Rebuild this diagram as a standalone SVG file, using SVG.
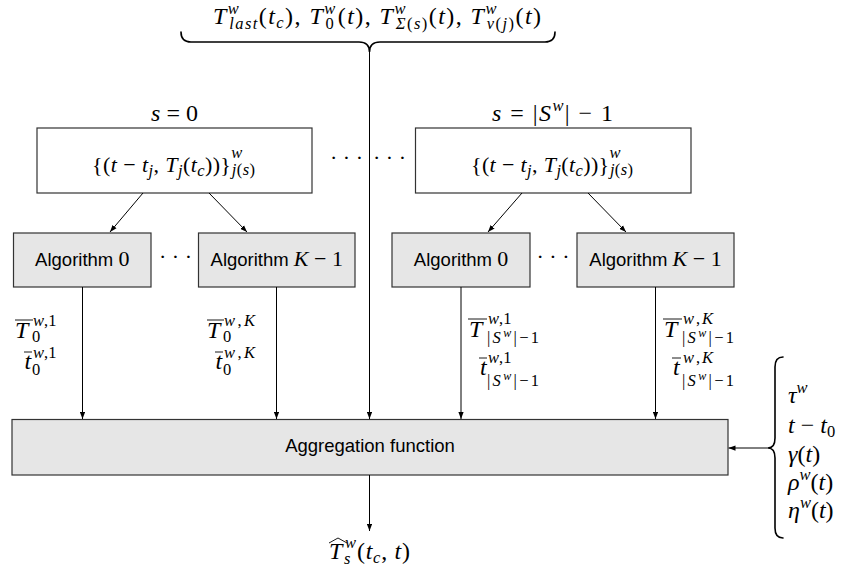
<svg xmlns="http://www.w3.org/2000/svg" width="844" height="574" viewBox="0 0 844 574">
<style>
.m{font-family:"Liberation Serif","Times New Roman",serif;font-size:24px;fill:#000}
.i{font-style:italic}
.s{font-size:16.5px}
.ss{font-size:12px}
.sans{font-family:"Liberation Sans",Arial,sans-serif;font-size:18.5px;fill:#000}
.box{fill:#fff;stroke:#333;stroke-width:1.2}
.gbox{fill:#e6e6e6;stroke:#333;stroke-width:1.2}
.ln{stroke:#000;stroke-width:1;fill:none}
.brace{stroke:#000;stroke-width:1.6;fill:none;stroke-linecap:round}
.bar{stroke:#000;stroke-width:0.9;fill:none}
</style>
<defs>
<marker id="ah" viewBox="0 0 8 6" refX="8" refY="3" markerWidth="7" markerHeight="5.5" markerUnits="userSpaceOnUse" orient="auto">
<path d="M0,0 L8,3 L0,6 z" fill="#000"/>
</marker>
</defs>
<rect width="844" height="574" fill="#fff"/>

<g id="inputs-top">
<text class="m" x="213" y="24" textLength="328" lengthAdjust="spacing"><tspan class="i">T</tspan><tspan class="i s" dy="-10">w</tspan><tspan class="i s" dx="-11" dy="15">last</tspan><tspan dy="-5">(</tspan><tspan class="i">t</tspan><tspan class="i s" dy="4">c</tspan><tspan dy="-4">), </tspan><tspan class="i">T</tspan><tspan class="i s" dy="-10">w</tspan><tspan class="s" dx="-11" dy="15">0</tspan><tspan dx="2.5" dy="-5">(</tspan><tspan class="i">t</tspan><tspan>), </tspan><tspan class="i">T</tspan><tspan class="i s" dy="-10">w</tspan><tspan class="s" dx="-11" dy="15"><tspan class="i">Σ</tspan>(<tspan class="i">s</tspan>)</tspan><tspan dy="-5">(</tspan><tspan class="i">t</tspan><tspan>), </tspan><tspan class="i">T</tspan><tspan class="i s" dy="-10">w</tspan><tspan class="s" dx="-11" dy="15"><tspan class="i">v</tspan>(<tspan class="i">j</tspan>)</tspan><tspan dy="-5">(</tspan><tspan class="i">t</tspan><tspan>)</tspan></text>
<path class="brace" d="M181,32 Q181,42 191,42 L359,42 Q369.5,42 369.5,52 Q369.5,42 380,42 L545,42 Q555,42 555,32"/>
</g>

<g id="node-s0">
<text class="m" x="174.5" y="121" text-anchor="middle"><tspan class="i">s</tspan> = 0</text>
<rect class="box" x="37" y="128" width="275" height="65"/>
<text class="m" x="92" y="172" textLength="163" lengthAdjust="spacing" style="font-size:22px">{(<tspan class="i">t</tspan> − <tspan class="i">t</tspan><tspan class="i s" dy="4">j</tspan><tspan dy="-4">, </tspan><tspan class="i">T</tspan><tspan class="i s" dy="4">j</tspan><tspan dy="-4">(</tspan><tspan class="i">t</tspan><tspan class="i s" dy="4">c</tspan><tspan dy="-4">))}</tspan><tspan class="i s" dy="-14">w</tspan><tspan class="s" dx="-11" dy="17"><tspan class="i">j</tspan>(<tspan class="i">s</tspan>)</tspan></text>
</g>

<g id="node-sN">
<text class="m" x="492" y="121" textLength="121" lengthAdjust="spacing"><tspan class="i">s</tspan> = |<tspan class="i">S</tspan><tspan class="i s" dy="-10">w</tspan><tspan dy="10">| − 1</tspan></text>
<rect class="box" x="415.5" y="128" width="275.5" height="65"/>
<text class="m" x="471" y="172" textLength="162" lengthAdjust="spacing" style="font-size:22px">{(<tspan class="i">t</tspan> − <tspan class="i">t</tspan><tspan class="i s" dy="4">j</tspan><tspan dy="-4">, </tspan><tspan class="i">T</tspan><tspan class="i s" dy="4">j</tspan><tspan dy="-4">(</tspan><tspan class="i">t</tspan><tspan class="i s" dy="4">c</tspan><tspan dy="-4">))}</tspan><tspan class="i s" dy="-14">w</tspan><tspan class="s" dx="-11" dy="17"><tspan class="i">j</tspan>(<tspan class="i">s</tspan>)</tspan></text>
</g>

<g id="dots">
<text class="m" x="346.5" y="165" text-anchor="middle" style="font-size:22px">· · ·</text>
<text class="m" x="389.5" y="165" text-anchor="middle" style="font-size:22px">· · ·</text>
<text class="m" x="175.5" y="264" text-anchor="middle" style="font-size:22px">· · ·</text>
<text class="m" x="553" y="264" text-anchor="middle" style="font-size:22px">· · ·</text>
</g>

<g id="algo-0-0">
<rect class="gbox" x="13.5" y="233" width="137.5" height="54"/>
<text class="sans" x="82.25" y="266" text-anchor="middle">Algorithm <tspan class="m" style="font-size:22px">0</tspan></text>
</g>
<g id="algo-0-K">
<rect class="gbox" x="198.5" y="233" width="156.5" height="54"/>
<text class="sans" x="276.75" y="266" text-anchor="middle">Algorithm <tspan class="m i" style="font-size:22px">K</tspan><tspan class="m" style="font-size:22px"> − 1</tspan></text>
</g>
<g id="algo-N-0">
<rect class="gbox" x="392" y="233" width="138" height="54"/>
<text class="sans" x="461" y="266" text-anchor="middle">Algorithm <tspan class="m" style="font-size:22px">0</tspan></text>
</g>
<g id="algo-N-K">
<rect class="gbox" x="577" y="233" width="157" height="54"/>
<text class="sans" x="655.5" y="266" text-anchor="middle">Algorithm <tspan class="m i" style="font-size:22px">K</tspan><tspan class="m" style="font-size:22px"> − 1</tspan></text>
</g>

<g id="aggregation">
<rect class="gbox" x="12" y="419.5" width="716" height="55.5"/>
<text class="sans" x="370" y="452" text-anchor="middle">Aggregation function</text>
</g>

<g id="connectors">
<line class="ln" x1="143" y1="193" x2="110" y2="232" marker-end="url(#ah)"/>
<line class="ln" x1="209" y1="193" x2="247" y2="232" marker-end="url(#ah)"/>
<line class="ln" x1="522" y1="193" x2="488" y2="232" marker-end="url(#ah)"/>
<line class="ln" x1="588" y1="193" x2="626" y2="232" marker-end="url(#ah)"/>
<line class="ln" x1="82.5" y1="287" x2="82.5" y2="419" marker-end="url(#ah)"/>
<line class="ln" x1="276.5" y1="287" x2="276.5" y2="419" marker-end="url(#ah)"/>
<line class="ln" x1="461" y1="287" x2="461" y2="419" marker-end="url(#ah)"/>
<line class="ln" x1="655.5" y1="287" x2="655.5" y2="419" marker-end="url(#ah)"/>
<line class="ln" x1="369.5" y1="52" x2="369.5" y2="419" marker-end="url(#ah)"/>
<line class="ln" x1="369.5" y1="475" x2="369.5" y2="531" marker-end="url(#ah)"/>
<line class="ln" x1="768" y1="448" x2="728.5" y2="448" marker-end="url(#ah)"/>
</g>

<g id="labels-0-0">
<line class="bar" x1="15" y1="320" x2="33" y2="320"/>
<text class="m i" x="15" y="338">T</text>
<text class="m s" x="33" y="326"><tspan class="i">w</tspan>,1</text>
<text class="m s" x="32" y="342">0</text>
<line class="bar" x1="24" y1="352" x2="32" y2="352"/>
<text class="m i" x="24.5" y="369">t</text>
<text class="m s" x="33" y="358"><tspan class="i">w</tspan>,1</text>
<text class="m s" x="32" y="375">0</text>
</g>
<g id="labels-0-K">
<line class="bar" x1="207" y1="320" x2="224" y2="320"/>
<text class="m i" x="207" y="338">T</text>
<text class="m s" x="224" y="326" textLength="31" lengthAdjust="spacing"><tspan class="i">w</tspan>,<tspan class="i">K</tspan></text>
<text class="m s" x="223" y="342">0</text>
<line class="bar" x1="215" y1="352" x2="223" y2="352"/>
<text class="m i" x="215.5" y="369">t</text>
<text class="m s" x="224" y="358" textLength="31" lengthAdjust="spacing"><tspan class="i">w</tspan>,<tspan class="i">K</tspan></text>
<text class="m s" x="223" y="375">0</text>
</g>
<g id="labels-N-0">
<line class="bar" x1="468" y1="319" x2="487" y2="319"/>
<text class="m i" x="469" y="337">T</text>
<text class="m s" x="488" y="324"><tspan class="i">w</tspan>,1</text>
<text class="m s" x="487" y="343" textLength="52" lengthAdjust="spacing">|<tspan class="i">S</tspan><tspan class="i ss" dy="-6">w</tspan><tspan dy="6">|−1</tspan></text>
<line class="bar" x1="479" y1="358" x2="487" y2="358"/>
<text class="m i" x="480" y="375">t</text>
<text class="m s" x="488" y="363"><tspan class="i">w</tspan>,1</text>
<text class="m s" x="487" y="386" textLength="52" lengthAdjust="spacing">|<tspan class="i">S</tspan><tspan class="i ss" dy="-6">w</tspan><tspan dy="6">|−1</tspan></text>
</g>
<g id="labels-N-K">
<line class="bar" x1="663" y1="319" x2="682" y2="319"/>
<text class="m i" x="664" y="337">T</text>
<text class="m s" x="683" y="324" textLength="30" lengthAdjust="spacing"><tspan class="i">w</tspan>,<tspan class="i">K</tspan></text>
<text class="m s" x="682" y="343" textLength="52" lengthAdjust="spacing">|<tspan class="i">S</tspan><tspan class="i ss" dy="-6">w</tspan><tspan dy="6">|−1</tspan></text>
<line class="bar" x1="672" y1="358" x2="681" y2="358"/>
<text class="m i" x="673" y="375">t</text>
<text class="m s" x="683" y="363" textLength="30" lengthAdjust="spacing"><tspan class="i">w</tspan>,<tspan class="i">K</tspan></text>
<text class="m s" x="682" y="386" textLength="52" lengthAdjust="spacing">|<tspan class="i">S</tspan><tspan class="i ss" dy="-6">w</tspan><tspan dy="6">|−1</tspan></text>
</g>

<g id="inputs-right">
<path class="brace" d="M783,357 Q775,357 775,367 L775,438 Q775,448 768,448 Q775,448 775,458 L775,528 Q775,538 783,538"/>
<text class="m i" x="788" y="403">τ<tspan class="s" dy="-10">w</tspan></text>
<text class="m" x="788" y="433"><tspan class="i">t</tspan> − <tspan class="i">t</tspan><tspan class="s" dy="4">0</tspan></text>
<text class="m" x="788" y="462"><tspan class="i">γ</tspan>(<tspan class="i">t</tspan>)</text>
<text class="m" x="788" y="490"><tspan class="i">ρ</tspan><tspan class="i s" dy="-10">w</tspan><tspan dy="10">(</tspan><tspan class="i">t</tspan>)</text>
<text class="m" x="788" y="518"><tspan class="i">η</tspan><tspan class="i s" dy="-10">w</tspan><tspan dy="10">(</tspan><tspan class="i">t</tspan>)</text>
</g>

<g id="output">
<path class="bar" d="M329,543 L338,538 L347,543"/>
<text class="m i" x="329" y="559">T</text>
<text class="m i s" x="345" y="548">w</text>
<text class="m i s" x="344" y="564">s</text>
<text class="m" x="357" y="559" textLength="53" lengthAdjust="spacing">(<tspan class="i">t</tspan><tspan class="i s" dy="4">c</tspan><tspan dy="-4">, </tspan><tspan class="i">t</tspan>)</text>
</g>
</svg>
